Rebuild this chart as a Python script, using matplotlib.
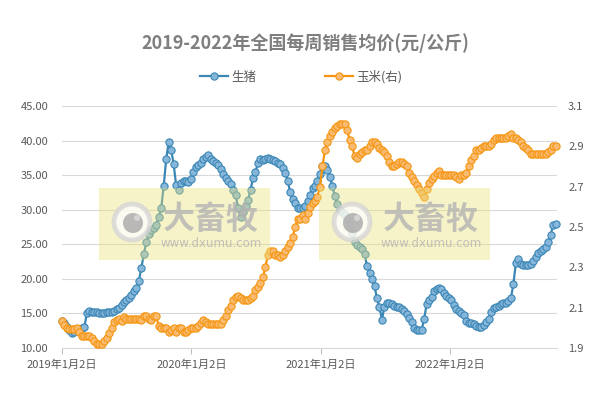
import numpy as np
import pandas as pd
import matplotlib
matplotlib.use('Agg')
import matplotlib.pyplot as plt
from matplotlib.patches import Rectangle, Circle

plt.rcParams['font.family'] = ['Noto Sans CJK SC', 'DejaVu Sans']

# 数据: 每周均价, 自2019年1月2日起
start_date = '2019-01-02'
title = '2019-2022年全国每周销售均价(元/公斤)'
series_names = ['生猪', '玉米(右)']

pig = [
    13.95, 13.6, 13.1, 12.6, 12.2, 12.3, 12.6, 12.8, 12.9, 13.0,
    15.0, 15.4, 15.2, 15.2, 15.2, 15.1, 15.0, 15.1, 15.2, 15.2,
    15.25, 15.35, 15.6, 15.85, 16.2, 16.6, 17.0, 17.3, 17.7, 18.2,
    18.7, 19.7, 21.6, 23.6, 25.3, 26.5, 27.0, 27.4, 27.8, 29.0,
    30.2, 33.4, 37.3, 39.8, 38.7, 36.6, 33.6, 32.9, 33.9, 34.2,
    34.2, 34.0, 34.5, 35.5, 36.2, 36.5, 36.8, 37.3, 37.6, 37.9,
    37.4, 37.1, 36.8, 36.4, 35.9, 35.2, 34.6, 34.1, 33.7, 32.9,
    32.1, 30.3, 29.0, 29.6, 30.5, 31.4, 32.8, 34.6, 35.5, 36.7,
    37.3, 37.2, 37.4, 37.5, 37.3, 37.2, 37.0, 36.8, 36.6, 36.1,
    35.3, 34.2, 32.5, 31.5, 31.0, 30.2, 30.2, 30.3, 30.5, 31.3,
    32.2, 33.1, 33.5, 34.2, 35.2, 36.3, 36.3, 35.8, 34.8, 33.4,
    32.0, 30.8, 30.0, 29.6, 29.2, 28.6, 27.8, 26.7, 25.3, 24.9,
    24.6, 24.3, 23.6, 21.8, 20.8, 20.0, 18.9, 17.2, 15.9, 14.1,
    16.0, 16.5, 16.5, 16.3, 16.1, 15.9, 15.9, 15.6, 15.3, 14.9,
    14.3, 13.7, 12.9, 12.6, 12.6, 12.6, 14.2, 16.3, 17.0, 17.4,
    18.2, 18.6, 18.7, 18.5, 18.0, 17.5, 17.2, 16.9, 16.2, 15.7,
    15.4, 15.1, 14.8, 13.9, 13.6, 13.6, 13.4, 13.2, 13.0, 13.1,
    13.3, 13.7, 14.2, 15.2, 15.8, 15.9, 16.1, 16.3, 16.5, 16.5,
    16.8, 17.2, 19.3, 22.3, 22.9, 22.1, 22.0, 22.0, 22.0, 22.2,
    22.6, 23.2, 23.7, 24.0, 24.3, 24.6, 25.4, 26.3, 27.8, 27.9,
]

corn = [
    2.035, 2.013, 1.998, 1.995, 1.993, 1.995, 1.998, 1.98, 1.96, 1.958,
    1.958, 1.958, 1.95, 1.935, 1.92, 1.918, 1.92, 1.935, 1.95, 1.975,
    2.0, 2.03, 2.04, 2.042, 2.035, 2.055, 2.045, 2.042, 2.042, 2.042,
    2.042, 2.042, 2.04, 2.06, 2.059, 2.045, 2.04, 2.059, 2.059, 2.01,
    2.0, 1.998, 1.998, 1.977, 1.99, 1.998, 1.977, 1.998, 1.998, 1.977,
    1.977, 1.99, 1.998, 1.998, 1.998, 2.01, 2.022, 2.04, 2.03, 2.02,
    2.02, 2.02, 2.02, 2.02, 2.02, 2.04, 2.06, 2.088, 2.11, 2.14,
    2.155, 2.16, 2.15, 2.14, 2.14, 2.14, 2.15, 2.16, 2.19, 2.20,
    2.22, 2.25, 2.30, 2.36, 2.38, 2.38, 2.36, 2.36, 2.35, 2.36,
    2.38, 2.40, 2.42, 2.45, 2.50, 2.54, 2.54, 2.56, 2.54, 2.57,
    2.60, 2.62, 2.63, 2.65, 2.70, 2.80, 2.88, 2.92, 2.95, 2.97,
    2.99, 3.0, 3.01, 3.01, 3.01, 2.98, 2.93, 2.90, 2.85, 2.84,
    2.86, 2.87, 2.88, 2.88, 2.90, 2.92, 2.92, 2.91, 2.89, 2.88,
    2.87, 2.85, 2.82, 2.80, 2.80, 2.81, 2.82, 2.82, 2.81, 2.80,
    2.77, 2.75, 2.73, 2.71, 2.69, 2.67, 2.65, 2.69, 2.72, 2.74,
    2.755, 2.77, 2.78, 2.76, 2.76, 2.76, 2.76, 2.76, 2.76, 2.75,
    2.74, 2.76, 2.76, 2.77, 2.80, 2.83, 2.85, 2.88, 2.88, 2.89,
    2.90, 2.90, 2.90, 2.91, 2.93, 2.94, 2.94, 2.94, 2.94, 2.94,
    2.95, 2.96, 2.94, 2.94, 2.93, 2.92, 2.90, 2.89, 2.88, 2.86,
    2.86, 2.86, 2.86, 2.86, 2.86, 2.86, 2.87, 2.88, 2.90, 2.90,
]

tick_dates = ['2019-01-02', '2020-01-02', '2021-01-02', '2022-01-02']
tick_labels = ['2019年1月2日', '2020年1月2日', '2021年1月2日', '2022年1月2日']
left_ticks = [10, 15, 20, 25, 30, 35, 40, 45]
right_ticks = [1.9, 2.1, 2.3, 2.5, 2.7, 2.9, 3.1]

dates = pd.date_range(start_date, periods=len(pig), freq='7D')

blue, blue_face = '#3A86B5', '#86B6D9'
orange, orange_face = '#F5950F', '#F9BB72'
txt = '#595959'
grid = '#d9d9d9'

fig = plt.figure(figsize=(6.03, 3.94), dpi=100)
W, H = 603, 394
ax = fig.add_axes([62 / W, 1 - 348 / H, (557 - 62) / W, (348 - 106) / H])

l1, = ax.plot(dates, pig, color=blue, lw=1.6, marker='o', ms=5.2,
              mfc=blue_face, mec=blue, mew=0.8, clip_on=False, zorder=3)
ax.set_ylim(10, 45)
ax.set_yticks(left_ticks)
ax.set_yticklabels(['%.2f' % v for v in left_ticks])
ax.yaxis.grid(True, color=grid, lw=0.8)
ax.set_axisbelow(True)
for s in ['top', 'left', 'right']:
    ax.spines[s].set_visible(False)
ax.spines['bottom'].set_color(grid)
ax.tick_params(axis='y', length=0, pad=10, labelsize=8, labelcolor=txt)
ax.set_xticks(pd.to_datetime(tick_dates))
ax.set_xticklabels(tick_labels)
ax.tick_params(axis='x', length=4, color='#bfbfbf', pad=4, labelsize=8, labelcolor=txt)
ax.set_xlim(dates[0], dates[-1] + pd.Timedelta(days=4))

ax2 = ax.twinx()
l2, = ax2.plot(dates, corn, color=orange, lw=1.6, marker='o', ms=5.2,
               mfc=orange_face, mec=orange, mew=0.8, clip_on=False, zorder=3)
ax2.set_ylim(1.9, 3.1)
ax2.set_yticks(right_ticks)
ax2.set_yticklabels(['%.1f' % v for v in right_ticks])
for s in ax2.spines.values():
    s.set_visible(False)
ax2.tick_params(axis='y', length=0, pad=8, labelsize=8, labelcolor=txt)
ax2.set_xlim(dates[0], dates[-1] + pd.Timedelta(days=4))

fig.text(0.507, 1 - 43 / H, title, ha='center', va='center', fontsize=13,
         fontweight='bold', color='#7f7f7f')
fig.legend(handles=[l1, l2], labels=series_names, loc='center',
           bbox_to_anchor=(0.5, 1 - 77 / H), ncol=2, frameon=False, fontsize=9,
           handlelength=2.2, handletextpad=0.3, columnspacing=5.5, labelcolor=txt)

# 水印
ov = fig.add_axes([0, 0, 1, 1], zorder=10)
ov.set_xlim(0, W)
ov.set_ylim(H, 0)
ov.axis('off')
for cx in [132, 352]:
    ov.add_patch(Rectangle((cx - 33, 188), 171, 72, fc=(235 / 255, 225 / 255, 120 / 255),
                           alpha=0.4, ec='none'))
    ov.add_patch(Circle((cx, 222), 18, fc='white', ec='#d4d4d4', lw=3.5, alpha=0.75))
    ov.add_patch(Circle((cx + 1, 223), 10, fc='#a8a8a8', alpha=0.8))
    ov.add_patch(Circle((cx + 5, 218), 3, fc='#d8d8d8', alpha=0.9))
    ov.text(cx + 79, 220, '大畜牧', ha='center', va='center', fontsize=23,
            fontweight='bold', color='#b4b4b4', alpha=0.8)
    ov.text(cx + 79, 243, 'www.dxumu.com', ha='center', va='center', fontsize=8.5,
            color='#b4b4b4', alpha=0.8, family='DejaVu Sans')

fig.savefig('out.png', dpi=100)
